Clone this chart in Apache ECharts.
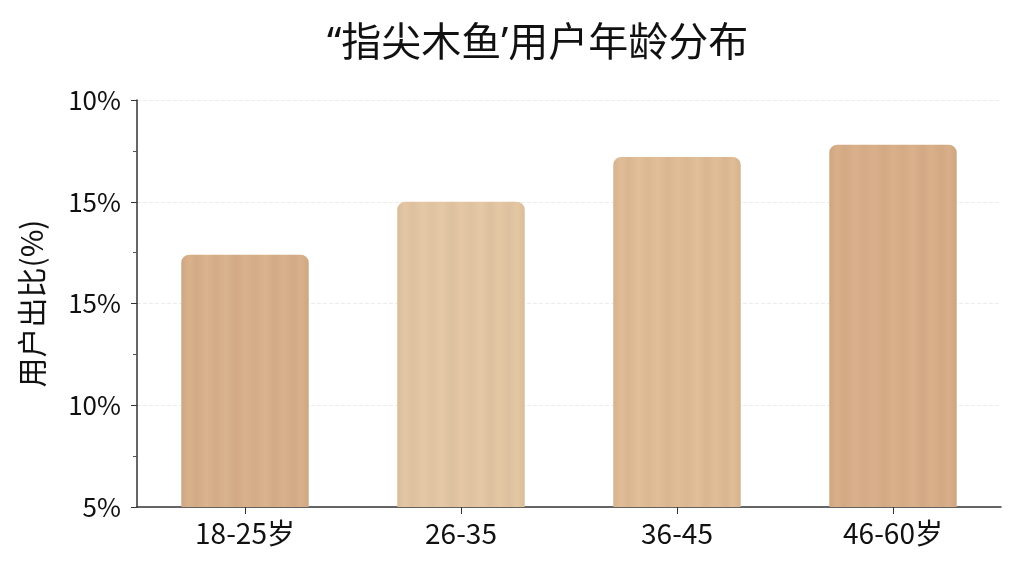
<!DOCTYPE html>
<html>
<head>
<meta charset="utf-8">
<script src="https://cdn.jsdelivr.net/npm/echarts@6/dist/echarts.min.js"></script>
<style>
html,body{margin:0;padding:0;background:#fff;}
#chart{width:1024px;height:576px;}
</style>
</head>
<body>
<div id="chart"></div>
<script>
const categories = ["18-25岁", "26-35", "36-45", "46-60岁"];
const shareValues = [17.4, 20.0, 22.2, 22.8];
const yTickValues = [5, 10, 15, 20, 25];
const yTickLabels = ["5%", "10%", "15%", "15%", "10%"];
const barColors = ["#d8b08a", "#e4c6a2", "#e0bc95", "#d8ae87"];

function shade(hex, amt) {
  const n = parseInt(hex.slice(1), 16);
  let r = (n >> 16) & 255, g = (n >> 8) & 255, b = n & 255;
  const f = c => Math.max(0, Math.min(255, Math.round(amt >= 0 ? c + (255 - c) * amt : c * (1 + amt))));
  return 'rgb(' + f(r) + ',' + f(g) + ',' + f(b) + ')';
}
function woodGradient(base) {
  const stops = [0, 0.06, 0.12, 0.2, 0.27, 0.35, 0.43, 0.5, 0.58, 0.66, 0.73, 0.8, 0.88, 0.94, 1];
  const amts = [-0.05, 0.02, -0.03, 0.04, -0.02, 0.03, -0.03, 0.02, -0.02, 0.04, -0.03, 0.02, -0.03, 0.01, -0.05];
  return {
    type: 'linear', x: 0, y: 0, x2: 1, y2: 0,
    colorStops: stops.map((o, i) => ({offset: o, color: shade(base, amts[i])}))
  };
}

const chart = echarts.init(document.getElementById('chart'));
const font = '"Noto Sans CJK SC", "Noto Sans", sans-serif';
chart.setOption({
  backgroundColor: '#ffffff',
  title: {
    text: '“指尖木鱼’用户年龄分布',
    left: 322,
    top: 20,
    textStyle: {fontFamily: '"Noto Sans", "Noto Sans CJK SC", sans-serif', fontSize: 40, fontWeight: 'normal', color: '#111'}
  },
  grid: {left: 137, right: 23, top: 100, bottom: 69},
  xAxis: {
    type: 'category',
    data: categories,
    axisLine: {lineStyle: {color: '#333', width: 1.5}},
    axisTick: {show: true, alignWithLabel: true, length: 7, lineStyle: {color: '#333'}},
    axisLabel: {fontFamily: font, fontSize: 28, color: '#111', margin: 12}
  },
  yAxis: {
    type: 'value',
    min: yTickValues[0],
    max: yTickValues[yTickValues.length - 1],
    interval: 5,
    name: '用户出比(%)',
    nameLocation: 'middle',
    nameGap: 90,
    nameRotate: 90,
    nameTextStyle: {fontFamily: font, fontSize: 30, color: '#111'},
    axisLine: {show: true, lineStyle: {color: '#333', width: 1.5}},
    axisTick: {show: true, length: 6, lineStyle: {color: '#333'}},
    minorTick: {show: true, splitNumber: 2, length: 4, lineStyle: {color: '#555'}},
    splitLine: {show: true, lineStyle: {color: '#ececec', type: 'dashed'}},
    axisLabel: {
      fontFamily: font, fontSize: 26, color: '#111', margin: 16,
      formatter: function (v) {
        const i = yTickValues.indexOf(v);
        return i >= 0 ? yTickLabels[i] : '';
      }
    }
  },
  series: [{
    type: 'bar',
    barWidth: '59%',
    data: shareValues.map((v, i) => ({
      value: v,
      itemStyle: {color: woodGradient(barColors[i])}
    })),
    itemStyle: {borderRadius: [8, 8, 0, 0]}
  }]
});
</script>
</body>
</html>
